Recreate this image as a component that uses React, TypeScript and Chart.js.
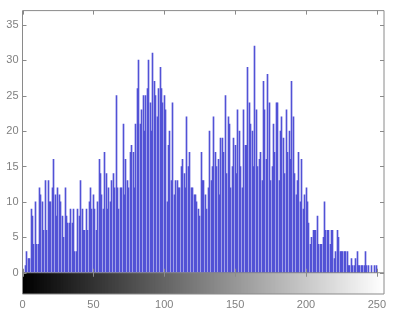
import React, { useEffect, useRef } from "react";
import { Chart, registerables } from "chart.js";

Chart.register(...registerables);

// Pixel counts per intensity bin
const counts0to63 = [
  0, 0, 1, 3, 2, 2, 9, 8, 4, 10, 4, 4, 12, 11, 10, 6, 13, 6, 13, 10, 10, 12, 16, 11, 8, 12, 11, 10, 8, 5, 12,
  8, 7, 7, 9, 7, 9, 3, 3, 9, 8, 13, 9, 6, 6, 9, 6, 10, 12, 9, 11, 9, 6, 10, 16, 14, 11, 9, 17, 14, 9, 12, 10, 13,
];
const counts64to127 = [
  14, 12, 25, 12, 9, 12, 12, 21, 11, 16, 13, 12, 17, 18, 17, 12, 21, 26, 30, 21, 23, 25, 20, 25, 26,
  30, 24, 20, 31, 27, 25, 22, 26, 29, 26, 24, 25, 23, 10, 18, 20, 13, 24, 11, 13, 13, 12, 12, 15, 16,
  14, 12, 22, 15, 17, 12, 12, 11, 11, 10, 9, 8, 17, 13,
];
const counts128to191 = [
  13, 11, 9, 12, 20, 13, 15, 22, 17, 15, 16, 11, 19, 19, 17, 25, 14, 22, 21, 12, 15, 19, 18, 14, 23,
  20, 15, 12, 23, 18, 18, 29, 24, 21, 20, 15, 32, 23, 15, 16, 17, 13, 27, 23, 16, 28, 24, 13, 15, 21,
  17, 24, 24, 13, 20, 22, 19, 14, 23, 17, 20, 16, 27, 22,
];
const counts192to255 = [
  14, 11, 13, 17, 10, 16, 9, 11, 12, 10, 7, 4, 5, 6, 6, 6, 8, 4, 4, 4, 5, 10, 6, 6, 6,
  4, 6, 6, 2, 3, 6, 5, 3, 3, 3, 3, 3, 3, 1, 1, 2, 1, 1, 2, 3, 1, 1, 1, 1, 1,
  3, 1, 1, 0, 1, 0, 1, 0, 1, 0, 0, 0, 0, 0,
];

const xTickValues = [0, 50, 100, 150, 200, 250];
const yTickValues = [0, 5, 10, 15, 20, 25, 30, 35];

const counts = [...counts0to63, ...counts64to127, ...counts128to191, ...counts192to255];
const bins = counts.map((_, i) => i);

const FRAME = "#8a8a8a";
const LABEL = "#808080";

// Snap each stem to a single pixel column (like MATLAB's aliased stem lines)
const snapPlugin = {
  id: "snapStems",
  beforeDatasetsDraw(chart: any) {
    const meta = chart.getDatasetMeta(1);
    meta.data.forEach((el: any) => {
      el.x = Math.floor(el.x) + 0.5;
    });
  },
};

const framePlugin = {
  id: "matlabFrame",
  afterDatasetsDraw(chart: any) {
    const { ctx, chartArea, scales } = chart;
    const { left, right, top, bottom } = chartArea;
    const y0 = scales.y.getPixelForValue(0);
    ctx.save();
    ctx.strokeStyle = FRAME;
    ctx.lineWidth = 1;
    ctx.beginPath();
    ctx.rect(left, top, right - left, bottom - top);
    ctx.moveTo(left, y0);
    ctx.lineTo(right, y0);
    const tl = 4;
    yTickValues.forEach((v) => {
      const py = Math.round(scales.y.getPixelForValue(v)) + 0.5;
      ctx.moveTo(left, py);
      ctx.lineTo(left + tl, py);
      ctx.moveTo(right, py);
      ctx.lineTo(right - tl, py);
    });
    xTickValues.forEach((v) => {
      const px = Math.round(scales.x.getPixelForValue(v)) + 0.5;
      ctx.moveTo(px, top);
      ctx.lineTo(px, top + tl);
      ctx.moveTo(px, y0 - tl);
      ctx.lineTo(px, y0 + tl);
    });
    ctx.stroke();
    ctx.restore();
  },
};

export default function App() {
  const canvasRef = useRef<HTMLCanvasElement | null>(null);

  useEffect(() => {
    document.body.style.margin = "0";
    const canvas = canvasRef.current;
    if (!canvas) return;
    const chart = new Chart(canvas, {
      type: "bar",
      data: {
        datasets: [
          {
            label: "colorbar",
            data: bins.map((i) => ({ x: i, y: [-3, 0] })) as any,
            backgroundColor: bins.map((i) => `rgb(${i},${i},${i})`),
            borderWidth: 0,
            barThickness: 2,
            grouped: false,
            order: 2,
          } as any,
          {
            label: "counts",
            data: bins.filter((i) => counts[i] > 0).map((i) => ({ x: i, y: counts[i] })) as any,
            backgroundColor: "#5252d6",
            borderWidth: 0,
            barThickness: 1,
            grouped: false,
            order: 1,
          } as any,
        ],
      },
      options: {
        animation: false,
        responsive: false,
        maintainAspectRatio: false,
        layout: { padding: { top: 9, right: 13, left: 0, bottom: 0 } },
        plugins: {
          legend: { display: false },
          tooltip: { enabled: false },
          title: { display: false },
        },
        scales: {
          x: {
            type: "linear",
            min: 0,
            max: 255,
            offset: false,
            grid: { display: false, drawTicks: false },
            border: { display: false },
            afterBuildTicks: (axis: any) => {
              axis.ticks = xTickValues.map((v) => ({ value: v }));
            },
            afterFit: (axis: any) => {
              axis.height = 22;
            },
            ticks: {
              color: LABEL,
              padding: 4,
              maxRotation: 0,
              autoSkip: false,
              font: { family: "Liberation Sans, Arial, sans-serif", size: 11 },
            },
          },
          y: {
            type: "linear",
            min: -3,
            max: 37,
            grid: { display: false, drawTicks: false },
            border: { display: false },
            afterBuildTicks: (axis: any) => {
              axis.ticks = yTickValues.map((v) => ({ value: v }));
            },
            afterFit: (axis: any) => {
              axis.width = 22.5;
            },
            ticks: {
              color: LABEL,
              padding: 4,
              autoSkip: false,
              font: { family: "Liberation Sans, Arial, sans-serif", size: 11 },
            },
          },
        },
      },
      plugins: [snapPlugin, framePlugin],
    });
    return () => chart.destroy();
  }, []);

  return (
    <div style={{ width: 397, height: 316, background: "#ffffff" }}>
      <canvas ref={canvasRef} width={397} height={316} style={{ display: "block" }} />
    </div>
  );
}
